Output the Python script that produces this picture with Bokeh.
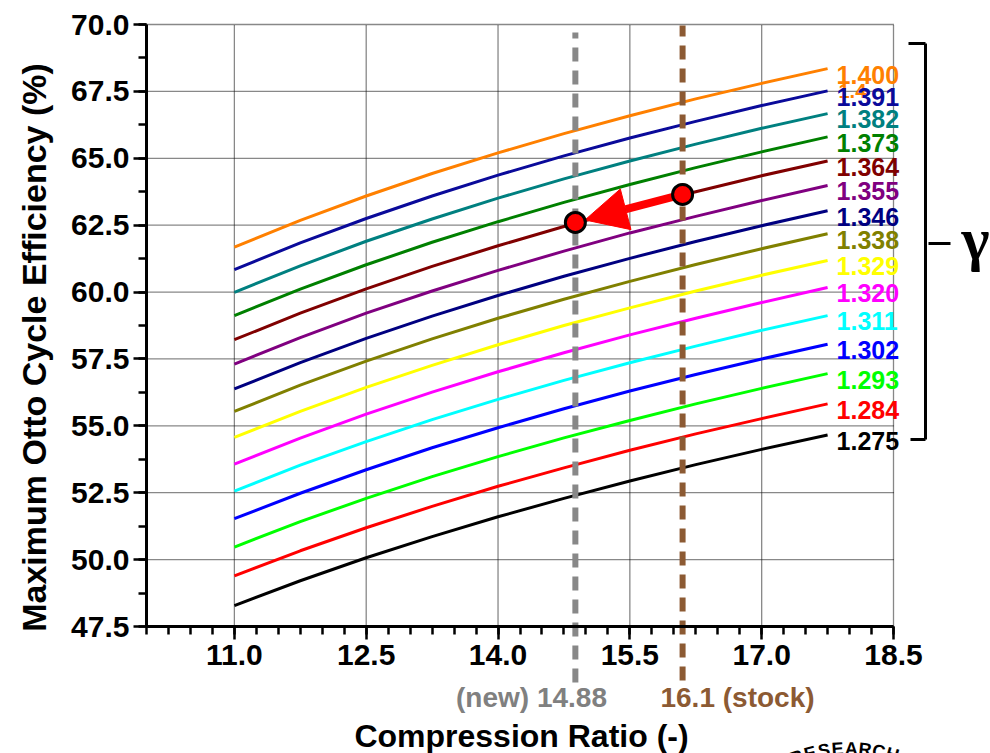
import numpy as np
from bokeh.plotting import figure
from bokeh.models import (Range1d, FixedTicker, PrintfTickFormatter, Label, Arrow, NormalHead)
from bokeh.embed import file_html
from bokeh.resources import INLINE

# ---------------- data ----------------
compression_ratio = [11.0, 11.75, 12.5, 13.25, 14.0, 14.75, 15.5, 16.25, 17.0, 17.75]

gamma_labels = ["1.400", "1.391", "1.382", "1.373", "1.364", "1.355", "1.346", "1.338",
                "1.329", "1.320", "1.311", "1.302", "1.293", "1.284", "1.275"]
gamma_colors = ["#FF8000", "#0A0A9A", "#008080", "#008000", "#800000", "#800080", "#000080",
                "#808000", "#FFFF00", "#FF00FF", "#00FFFF", "#0000FF", "#00FF00", "#FF0000",
                "#000000"]

eff_1400 = [61.68, 62.68, 63.59, 64.43, 65.20, 65.92, 66.59, 67.22, 67.80, 68.35]
eff_1391 = [60.84, 61.84, 62.75, 63.59, 64.37, 65.09, 65.76, 66.38, 66.97, 67.52]
eff_1382 = [59.99, 60.98, 61.90, 62.73, 63.51, 64.23, 64.90, 65.53, 66.12, 66.67]
eff_1373 = [59.12, 60.11, 61.02, 61.86, 62.63, 63.35, 64.02, 64.65, 65.24, 65.80]
eff_1364 = [58.22, 59.21, 60.12, 60.96, 61.73, 62.45, 63.13, 63.75, 64.35, 64.90]
eff_1355 = [57.31, 58.30, 59.21, 60.04, 60.81, 61.53, 62.21, 62.83, 63.42, 63.98]
eff_1346 = [56.38, 57.36, 58.27, 59.10, 59.87, 60.59, 61.26, 61.89, 62.48, 63.04]
eff_1338 = [55.54, 56.52, 57.42, 58.25, 59.02, 59.73, 60.40, 61.03, 61.62, 62.18]
eff_1329 = [54.57, 55.54, 56.44, 57.26, 58.03, 58.75, 59.41, 60.04, 60.63, 61.18]
eff_1320 = [53.57, 54.54, 55.44, 56.26, 57.02, 57.73, 58.40, 59.02, 59.61, 60.17]
eff_1311 = [52.56, 53.53, 54.41, 55.23, 55.99, 56.70, 57.36, 57.98, 58.57, 59.12]
eff_1302 = [51.53, 52.48, 53.36, 54.18, 54.93, 55.64, 56.30, 56.92, 57.50, 58.05]
eff_1293 = [50.47, 51.42, 52.29, 53.10, 53.85, 54.55, 55.20, 55.82, 56.40, 56.95]
eff_1284 = [49.39, 50.33, 51.19, 51.99, 52.74, 53.43, 54.09, 54.70, 55.27, 55.82]
eff_1275 = [48.28, 49.21, 50.07, 50.86, 51.60, 52.29, 52.94, 53.55, 54.12, 54.66]

curves = [eff_1400, eff_1391, eff_1382, eff_1373, eff_1364, eff_1355, eff_1346, eff_1338,
          eff_1329, eff_1320, eff_1311, eff_1302, eff_1293, eff_1284, eff_1275]

cr_new = 14.88
cr_stock = 16.1
eff_new = 62.60
eff_stock = 63.65

x_ticks = [11.0, 12.5, 14.0, 15.5, 17.0, 18.5]
y_ticks = [47.5, 50.0, 52.5, 55.0, 57.5, 60.0, 62.5, 65.0, 67.5, 70.0]

# ---------------- layout helpers ----------------
W, H = 990, 753
FL, FR, FT, FB = 146, 893, 24, 626          # pixel box of the data area
X0, X1, Y0, Y1 = 10.0, 18.5, 47.5, 70.0     # data box


def X(px):
    return X0 + (px - FL) * (X1 - X0) / (FR - FL)


def Y(py):
    return Y1 - (py - FT) * (Y1 - Y0) / (FB - FT)


FONT = "Liberation Sans"

p = figure(width=W, height=H, output_backend="svg", toolbar_location=None,
           x_range=Range1d(X(0), X(W)), y_range=Range1d(Y(H), Y(0)),
           min_border=0)
p.outline_line_color = None
p.background_fill_color = "white"
p.border_fill_color = "white"
p.xgrid.visible = False
p.ygrid.visible = False

xa = p.xaxis[0]
ya = p.yaxis[0]
xa.fixed_location = Y0
ya.fixed_location = X0
xa.bounds = (X0, X1)
ya.bounds = (Y0, Y1)
xa.ticker = FixedTicker(ticks=x_ticks, minor_ticks=list(np.arange(X0, X1 + 1e-9, 0.25)))
ya.ticker = FixedTicker(ticks=y_ticks, minor_ticks=list(np.arange(Y0, Y1 + 1e-9, 1.25)))
for ax in (xa, ya):
    ax.formatter = PrintfTickFormatter(format="%.1f")
    ax.axis_line_width = 3
    ax.axis_line_color = "black"
    ax.major_tick_line_width = 2.5
    ax.minor_tick_line_width = 2.5
    ax.major_tick_out = 13
    ax.major_tick_in = 0
    ax.minor_tick_out = 8
    ax.minor_tick_in = 0
    ax.major_label_text_font = FONT
    ax.major_label_text_font_style = "bold"
    ax.major_label_text_font_size = "30px"
    ax.major_label_text_color = "black"
xa.major_label_standoff = 5
ya.major_label_standoff = 4

# dotted grid on the major ticks, limited to the data box
p.segment(x0=x_ticks, y0=[Y0] * len(x_ticks), x1=x_ticks, y1=[Y1] * len(x_ticks),
          line_color="#111111", line_dash="1 1", line_width=1.3)
p.segment(x0=[X0] * len(y_ticks), y0=y_ticks, x1=[X1] * len(y_ticks), y1=y_ticks,
          line_color="#111111", line_dash="1 1", line_width=1.3)

# curves
for eff, col in zip(curves, gamma_colors):
    p.line(compression_ratio, eff, line_color=col, line_width=3)

# vertical dashed markers
p.segment(x0=[cr_new], y0=[Y(682)], x1=[cr_new], y1=[Y(32)], line_color="#888888",
          line_width=6, line_dash="14 9")
p.segment(x0=[cr_stock], y0=[Y(680)], x1=[cr_stock], y1=[Y(25)], line_color="#8C5A33",
          line_width=6, line_dash="14 9")

# red arrow stock -> new
frac = 0.91
p.add_layout(Arrow(end=NormalHead(size=42, fill_color="#FF0000", line_color="#FF0000"),
                   x_start=cr_stock, y_start=eff_stock,
                   x_end=cr_stock + frac * (cr_new - cr_stock),
                   y_end=eff_stock + frac * (eff_new - eff_stock),
                   line_color="#FF0000", line_width=8))
p.scatter([cr_new, cr_stock], [eff_new, eff_stock], size=20, fill_color="#FF0000",
          line_color="black", line_width=3, level="overlay")

# gamma labels
for i, (lab, col, eff) in enumerate(zip(gamma_labels, gamma_colors, curves)):
    p.add_layout(Label(x=compression_ratio[-1] + X(155) - X(146), y=eff[-1] - 0.22,
                       text=lab, text_color=col, text_font=FONT, text_font_style="bold",
                       text_font_size="25px", text_baseline="middle", text_align="left"))
    if i == 0:
        p.add_layout(Label(x=X(838), y=Y(90), text="1.4", text_color="#FF8000",
                           text_font=FONT, text_font_style="bold", text_font_size="20px",
                           text_baseline="middle", text_align="left"))

# bracket
bx0 = [X(925), X(908), X(910), X(928)]
by0 = [Y(43), Y(43), Y(439), Y(243)]
bx1 = [X(925), X(925), X(925), X(950)]
by1 = [Y(439), Y(43), Y(439), Y(243)]
p.segment(x0=bx0, y0=by0, x1=bx1, y1=by1, line_color="black", line_width=3)
p.add_layout(Label(x=X(961), y=Y(238), text="γ", text_font="Liberation Serif",
                   text_font_style="bold", text_font_size="60px", text_color="black",
                   text_baseline="alphabetic", text_align="left"))

# axis titles and marker captions
p.add_layout(Label(x=X(521), y=Y(735), text="Compression Ratio (-)", text_font=FONT,
                   text_font_style="bold", text_font_size="32px", text_color="black",
                   text_align="center", text_baseline="middle"))
p.add_layout(Label(x=X(33), y=Y(347), text="Maximum Otto Cycle Efficiency (%)",
                   text_font=FONT, text_font_style="bold", text_font_size="34px",
                   text_color="black", angle=np.pi / 2, text_align="center",
                   text_baseline="middle"))
p.add_layout(Label(x=X(531), y=Y(697), text="(new) 14.88", text_font=FONT,
                   text_font_style="bold", text_font_size="28px", text_color="#808080",
                   text_align="center", text_baseline="middle"))
p.add_layout(Label(x=X(737), y=Y(697), text="16.1 (stock)", text_font=FONT,
                   text_font_style="bold", text_font_size="28px", text_color="#8C5A33",
                   text_align="center", text_baseline="middle"))

# partial logo text on an arc
cx, cy, R = 848, 909, 161
for k, ch in enumerate("RESEARCH"):
    px = 796 + 13.7 * k
    th = np.arcsin((px - cx) / R)
    py = cy - R * np.cos(th)
    p.add_layout(Label(x=X(px), y=Y(py), text=ch, text_font=FONT, text_font_style="bold",
                       text_font_size="18px", text_color="black", angle=-th,
                       text_align="center", text_baseline="alphabetic"))

open("out.html", "w").write(file_html(p, INLINE))
